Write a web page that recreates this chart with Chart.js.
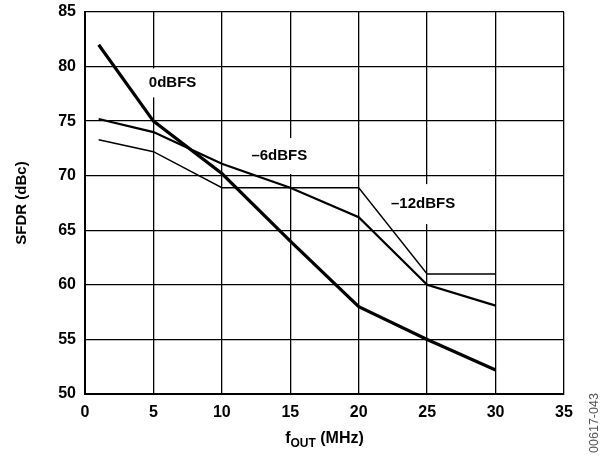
<!DOCTYPE html>
<html>
<head>
<meta charset="utf-8">
<script src="https://cdn.jsdelivr.net/npm/chart.js@4"></script>
<style>
  html, body { margin: 0; padding: 0; background: #fff; }
  #wrap { width: 603px; height: 458px; }
</style>
</head>
<body>
<div id="wrap"><canvas id="grafico"></canvas></div>
<script>
// SFDR vs fOUT
const freqs = [1, 5, 10, 15, 20, 25, 30];
const sfdr0dB = [82, 75, 70.2, 64, 58, 55, 52.2];
const sfdr6dB = [75.2, 74, 71.1, 68.9, 66.2, 60, 58.1];
const sfdr12dB = [73.3, 72.2, 68.9, 68.9, 68.9, 61, 61];
const seriesNames = ['0dBFS', '–6dBFS', '–12dBFS'];
const labelX = [6.4, 14.2, 24.7];
const labelY = [78.5, 71.8, 67.4];
const xTicks = [0, 5, 10, 15, 20, 25, 30, 35];
const yTicks = [50, 55, 60, 65, 70, 75, 80, 85];

const FONT = '"Liberation Sans", Arial, sans-serif';
const boxH = [29, 36, 40];

function pts(ys) {
  return freqs.map((f, i) => ({ x: f, y: ys[i] }));
}

// etiquetas com fundo branco sobre a grade
const curveLabels = {
  id: 'curveLabels',
  beforeDatasetsDraw(chart) {
    const c = chart.ctx;
    const sx = chart.scales.x, sy = chart.scales.y;
    c.save();
    c.font = 'bold 15px ' + FONT;
    c.textAlign = 'center';
    c.textBaseline = 'middle';
    seriesNames.forEach((t, i) => {
      const px = sx.getPixelForValue(labelX[i]);
      const py = sy.getPixelForValue(labelY[i]);
      const w = c.measureText(t).width + 10;
      c.fillStyle = '#fff';
      c.fillRect(px - w / 2, py - boxH[i] / 2, w, boxH[i]);
      c.fillStyle = '#000';
      c.fillText(t, px, py);
    });
    c.restore();
  },
  afterDraw(chart) {
    const c = chart.ctx;
    const a = chart.chartArea;
    c.save();
    c.fillStyle = '#000';
    // y title
    c.font = 'bold 15px ' + FONT;
    c.textAlign = 'center';
    c.textBaseline = 'middle';
    c.translate(22, (a.top + a.bottom) / 2);
    c.rotate(-Math.PI / 2);
    c.fillText('SFDR (dBc)', 0, 0);
    c.restore();

    // x title with subscript
    c.save();
    c.fillStyle = '#000';
    c.textBaseline = 'alphabetic';
    const f1 = 'bold 16px ' + FONT, f2 = 'bold 12px ' + FONT;
    c.font = f1; const wf = c.measureText('f').width;
    c.font = f2; const ws = c.measureText('OUT').width;
    c.font = f1; const wr = c.measureText(' (MHz)').width;
    let x0 = (a.left + a.right) / 2 - (wf + ws + wr) / 2;
    const yb = 443;
    c.textAlign = 'left';
    c.font = f1; c.fillText('f', x0, yb);
    c.font = f2; c.fillText('OUT', x0 + wf, yb + 4);
    c.font = f1; c.fillText(' (MHz)', x0 + wf + ws, yb);
    c.restore();

    // figure code
    c.save();
    c.fillStyle = '#555';
    c.font = '12.5px ' + FONT;
    c.textAlign = 'center';
    c.textBaseline = 'middle';
    c.translate(595, 423);
    c.rotate(-Math.PI / 2);
    c.fillText('00617-043', 0, 0);
    c.restore();
  }
};

const ctx = document.getElementById('grafico');
new Chart(ctx, {
  type: 'line',
  data: {
    datasets: [
      { label: seriesNames[2], data: pts(sfdr12dB), borderColor: '#000', borderWidth: 1.4 },
      { label: seriesNames[1], data: pts(sfdr6dB), borderColor: '#000', borderWidth: 2.2 },
      { label: seriesNames[0], data: pts(sfdr0dB), borderColor: '#000', borderWidth: 3.2 }
    ]
  },
  options: {
    responsive: true,
    maintainAspectRatio: false,
    animation: false,
    elements: { point: { radius: 0 }, line: { tension: 0, borderCapStyle: 'butt', borderJoinStyle: 'miter' } },
    layout: { padding: { top: 12, right: 39, left: 0, bottom: 0 } },
    plugins: { legend: { display: false }, tooltip: { enabled: false } },
    scales: {
      x: {
        type: 'linear', min: 0, max: 35,
        afterBuildTicks: s => { s.ticks = xTicks.map(v => ({ value: v })); },
        afterFit: s => { s.height = 64; s.paddingLeft = 0; s.paddingRight = 0; },
        grid: { color: '#000', lineWidth: 1.3, drawTicks: false },
        border: { color: '#000', width: 2 },
        ticks: { color: '#000', padding: 9, maxRotation: 0, font: { family: FONT, size: 16, weight: 'bold' } }
      },
      y: {
        type: 'linear', min: 50, max: 85,
        afterBuildTicks: s => { s.ticks = yTicks.map(v => ({ value: v })); },
        afterFit: s => { s.width = 85; s.paddingTop = 0; s.paddingBottom = 0; },
        grid: { color: '#000', lineWidth: 1.3, drawTicks: false },
        border: { color: '#000', width: 2 },
        ticks: { color: '#000', padding: 9, font: { family: FONT, size: 16, weight: 'bold' } }
      }
    }
  },
  plugins: [curveLabels]
});
</script>
</body>
</html>
